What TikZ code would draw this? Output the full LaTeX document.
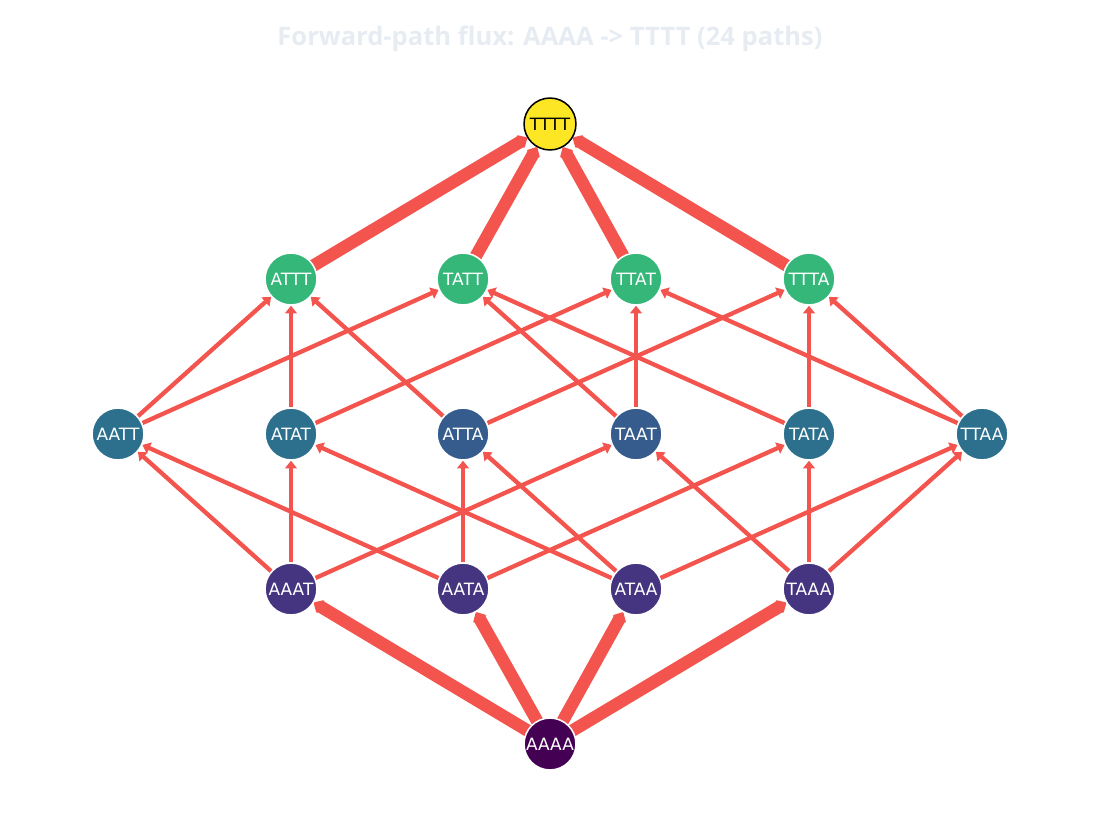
\documentclass[tikz,border=0pt]{standalone}
\usepackage{fontspec}
\setmainfont{DejaVu Sans}
\newfontfamily\titlefont{Open Sans}
\usetikzlibrary{arrows.meta,backgrounds}
\definecolor{edgec}{RGB}{243,84,78}
\definecolor{titlec}{RGB}{230,236,242}
\definecolor{cA}{HTML}{440154}
\definecolor{cB}{HTML}{453581}
\definecolor{cCa}{HTML}{2D708E}
\definecolor{cCb}{HTML}{365C8D}
\definecolor{cD}{HTML}{35B779}
\definecolor{cE}{HTML}{FDE725}
\begin{document}
\begin{tikzpicture}[x=0.72pt,y=-0.72pt,
  vert/.style={circle, minimum size=37.4pt, inner sep=0pt, draw=white, line width=1.1pt, text=white, font=\fontsize{12.2}{14}\selectfont},
  thinedge/.style={draw=edgec, line width=3.1pt, -{Triangle[length=5.5pt,width=8.5pt]}},
  thickedge/.style={draw=edgec, line width=9pt, -{Triangle[round,line width=2.5pt,length=6.5pt,width=12pt]}}]
\useasboundingbox (0,0) rectangle (1100,837);
\node[font=\titlefont\bfseries\fontsize{18.4}{22}\selectfont, text=titlec] (title) at (550,39) {Forward-path flux: AAAA -> TTTT (24 paths)};
\node[vert, fill=cE, draw=black, text=black] (TTTT) at (550,124) {TTTT};
\node[vert, fill=cD] (ATTT) at (291,279) {ATTT};
\node[vert, fill=cD] (TATT) at (463,279) {TATT};
\node[vert, fill=cD] (TTAT) at (636,279) {TTAT};
\node[vert, fill=cD] (TTTA) at (809,279) {TTTA};
\node[vert, fill=cCa] (AATT) at (118,434) {AATT};
\node[vert, fill=cCa] (ATAT) at (291,434) {ATAT};
\node[vert, fill=cCb] (ATTA) at (463,434) {ATTA};
\node[vert, fill=cCb] (TAAT) at (636,434) {TAAT};
\node[vert, fill=cCa] (TATA) at (809,434) {TATA};
\node[vert, fill=cCa] (TTAA) at (982,434) {TTAA};
\node[vert, fill=cB] (AAAT) at (291,589) {AAAT};
\node[vert, fill=cB] (AATA) at (463,589) {AATA};
\node[vert, fill=cB] (ATAA) at (636,589) {ATAA};
\node[vert, fill=cB] (TAAA) at (809,589) {TAAA};
\node[vert, fill=cA] (AAAA) at (550,744) {AAAA};
\begin{scope}[on background layer]
\foreach \t in {AAAT,AATA,ATAA,TAAA} \draw[thickedge] (AAAA.center) -- (\t);
\foreach \s in {ATTT,TATT,TTAT,TTTA} \draw[thickedge] (\s.center) -- (TTTT);
\foreach \s/\t in {AAAT/AATT,AAAT/ATAT,AAAT/TAAT,
                   AATA/AATT,AATA/ATTA,AATA/TATA,
                   ATAA/ATAT,ATAA/ATTA,ATAA/TTAA,
                   TAAA/TAAT,TAAA/TATA,TAAA/TTAA,
                   AATT/ATTT,AATT/TATT,
                   ATAT/ATTT,ATAT/TTAT,
                   ATTA/ATTT,ATTA/TTTA,
                   TAAT/TATT,TAAT/TTAT,
                   TATA/TATT,TATA/TTTA,
                   TTAA/TTAT,TTAA/TTTA}
  \draw[thinedge] (\s) -- (\t);
\end{scope}
\end{tikzpicture}
\end{document}
